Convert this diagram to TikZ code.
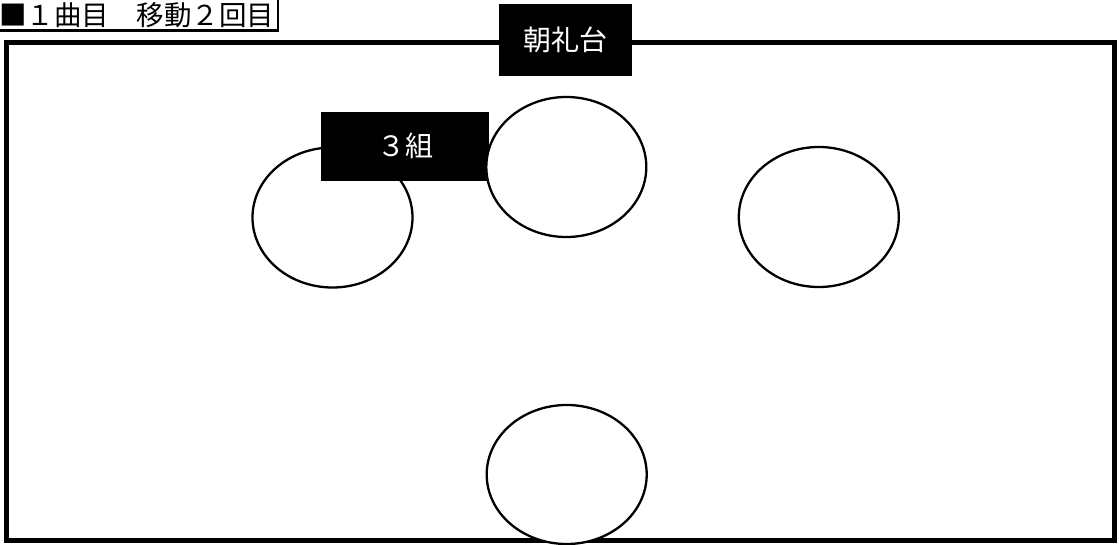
\documentclass[tikz,border=0pt]{standalone}
\usepackage{fontspec}
\setmainfont{Noto Sans CJK JP}
\usetikzlibrary{shapes.geometric}
\begin{document}
\begin{tikzpicture}[x=1pt,y=-1pt,
  spot/.style={draw=black,fill=white,line width=2.3pt,ellipse,inner sep=0pt,minimum width=160pt,minimum height=140pt},
  label box/.style={fill=black,text=white,inner sep=0pt,font=\fontsize{28}{32}\selectfont},
  title/.style={anchor=west,inner sep=0pt,font=\fontsize{27.5}{32}\selectfont}]
\useasboundingbox (0,0) rectangle (1119,545);
% title
\node[title] (ttl) at (-1,15) {■１曲目　移動２回目};
\coordinate (tb1) at (0,30.5);
\coordinate (tb2) at (278,30.5);
\coordinate (tb3) at (278,0);
\draw[line width=2.5pt] (tb1) -- (tb2) -- (tb3);
% field
\coordinate (f1) at (6.5,43);
\coordinate (f2) at (1114.5,540);
\draw[line width=5pt] (f1) rectangle (f2);
\node[label box,minimum width=133pt,minimum height=72pt] (stage) at (565,40) {朝礼台};
\node[spot] (e1) at (332.5,217.5) {};
\node[label box,minimum width=168pt,minimum height=69pt] (g3) at (405,146.2) {\raisebox{-4pt}{３組}};
\node[spot] (e2) at (566.3,167) {};
\node[spot] (e3) at (818.8,217) {};
\node[spot,minimum height=139pt] (e4) at (566.7,474.5) {};
\end{tikzpicture}
\end{document}
